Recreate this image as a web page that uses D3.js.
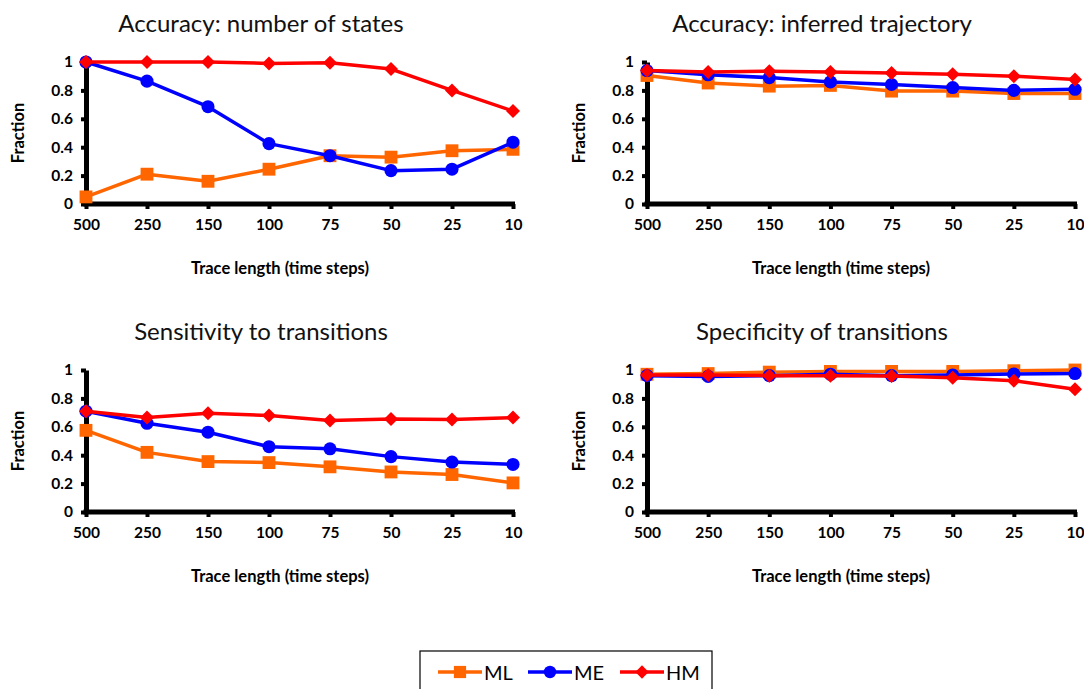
<!DOCTYPE html>
<html>
<head>
<meta charset="utf-8">
<script src="https://cdn.jsdelivr.net/npm/d3@7"></script>
<style>
  html, body { margin: 0; padding: 0; background: #fff; }
  svg { display: block; font-family: Lato, "Open Sans", sans-serif; }
</style>
</head>
<body>
<svg id="chart" width="1084" height="689"></svg>
<script>
// Trace lengths (time steps), shown left to right
const categories = ["500", "250", "150", "100", "75", "50", "25", "10"];
const yTicks = [0, 0.2, 0.4, 0.6, 0.8, 1];
const seriesNames = ["ML", "ME", "HM"];
const seriesColors = ["#ff6600", "#0000ff", "#ff0000"];

// Accuracy: number of states
const statesML = [0.05, 0.21, 0.16, 0.245, 0.34, 0.33, 0.375, 0.385];
const statesME = [1.0, 0.865, 0.685, 0.425, 0.34, 0.235, 0.245, 0.435];
const statesHM = [1.0, 1.0, 1.0, 0.99, 0.995, 0.95, 0.80, 0.655];

// Accuracy: inferred trajectory
const trajML = [0.905, 0.852, 0.83, 0.835, 0.795, 0.795, 0.778, 0.778];
const trajME = [0.94, 0.91, 0.89, 0.86, 0.842, 0.82, 0.80, 0.808];
const trajHM = [0.94, 0.93, 0.935, 0.93, 0.922, 0.913, 0.90, 0.877];

// Sensitivity to transitions
const sensML = [0.575, 0.42, 0.355, 0.348, 0.318, 0.282, 0.264, 0.205];
const sensME = [0.71, 0.625, 0.562, 0.46, 0.445, 0.39, 0.352, 0.335];
const sensHM = [0.71, 0.665, 0.695, 0.68, 0.645, 0.655, 0.652, 0.665];

// Specificity of transitions
const specML = [0.97, 0.975, 0.985, 0.99, 0.99, 0.99, 0.995, 1.0];
const specME = [0.96, 0.955, 0.96, 0.97, 0.96, 0.965, 0.972, 0.975];
const specHM = [0.965, 0.965, 0.96, 0.96, 0.958, 0.945, 0.925, 0.865];

// Marker shapes: square, circle, and a square diamond (equal width/height)
const squareDiamond = {
  draw(context, size) {
    const h = Math.sqrt(size / 2);
    context.moveTo(0, -h);
    context.lineTo(h, 0);
    context.lineTo(0, h);
    context.lineTo(-h, 0);
    context.closePath();
  }
};
const seriesSymbols = [d3.symbolSquare, d3.symbolCircle, squareDiamond];
const symbolSizes = [165, 135, 98];

const panels = [
  { title: "Accuracy: number of states", series: [statesML, statesME, statesHM], x0: 86, x1: 513, yTop: 62, yBot: 204 },
  { title: "Accuracy: inferred trajectory", series: [trajML, trajME, trajHM], x0: 647, x1: 1075, yTop: 62, yBot: 204 },
  { title: "Sensitivity to transitions", series: [sensML, sensME, sensHM], x0: 86, x1: 513, yTop: 370, yBot: 512 },
  { title: "Specificity of transitions", series: [specML, specME, specHM], x0: 647, x1: 1075, yTop: 370, yBot: 512 }
];

const svg = d3.select("#chart");

panels.forEach(p => {
  const g = svg.append("g");
  const x = d3.scalePoint().domain(categories).range([p.x0, p.x1]);
  const y = d3.scaleLinear().domain([0, 1]).range([p.yBot, p.yTop]);

  // title
  g.append("text")
    .attr("x", p.x0 + 175).attr("y", p.yTop - 30)
    .attr("text-anchor", "middle")
    .attr("font-size", 24)
    .attr("fill", "#111")
    .text(p.title);

  // y axis
  const yAxis = d3.axisLeft(y).tickValues(yTicks)
    .tickFormat(d => d === 0 ? "0" : d === 1 ? "1" : d3.format(".1f")(d))
    .tickSize(5).tickSizeOuter(0).tickPadding(8);
  const ya = g.append("g").attr("transform", `translate(${p.x0},0)`).call(yAxis);
  ya.select(".domain").attr("stroke", "#000").attr("stroke-width", 5);
  ya.selectAll(".tick line").attr("stroke", "#000").attr("stroke-width", 4);
  ya.selectAll(".tick text").attr("font-size", 15.5).attr("font-weight", "bold")
    .attr("font-family", "Lato, sans-serif").attr("fill", "#000");

  // x axis
  const xAxis = d3.axisBottom(x).tickSize(5).tickSizeOuter(0).tickPadding(10);
  const xa = g.append("g").attr("transform", `translate(0,${p.yBot})`).call(xAxis);
  xa.select(".domain").attr("stroke", "#000").attr("stroke-width", 5)
    .attr("d", `M${p.x0 - 2.5},0H${p.x1 + 2}`);
  xa.selectAll(".tick line").attr("stroke", "#000").attr("stroke-width", 4);
  xa.selectAll(".tick text").attr("font-size", 15.5).attr("font-weight", "bold")
    .attr("font-family", "Lato, sans-serif").attr("fill", "#000");

  // axis titles
  g.append("text")
    .attr("transform", `translate(${p.x0 - 68},${(p.yTop + p.yBot) / 2}) rotate(-90)`)
    .attr("text-anchor", "middle").attr("dominant-baseline", "central")
    .attr("font-size", 16.5).attr("font-weight", "bold").attr("fill", "#000")
    .text("Fraction");
  g.append("text")
    .attr("x", p.x0 + 194).attr("y", p.yBot + 64)
    .attr("text-anchor", "middle").attr("dominant-baseline", "central")
    .attr("font-size", 16.5).attr("font-weight", "bold").attr("fill", "#000")
    .text("Trace length (time steps)");

  // series lines and markers
  const line = d3.line().x((d, i) => x(categories[i])).y(d => y(d));
  p.series.forEach((vals, si) => {
    g.append("path").datum(vals)
      .attr("d", line)
      .attr("fill", "none")
      .attr("stroke", seriesColors[si])
      .attr("stroke-width", 3.5)
      .attr("stroke-linejoin", "round");
    const sym = d3.symbol().type(seriesSymbols[si]).size(symbolSizes[si]);
    g.selectAll(null).data(vals).enter().append("path")
      .attr("transform", (d, i) => `translate(${x(categories[i])},${y(d)})`)
      .attr("d", sym)
      .attr("fill", seriesColors[si]);
  });
});

// legend
const lg = svg.append("g");
lg.append("rect").attr("x", 420).attr("y", 651).attr("width", 292).attr("height", 50)
  .attr("fill", "#fff").attr("stroke", "#000").attr("stroke-width", 1.2);
const legendX = [438, 528, 620];
seriesNames.forEach((name, si) => {
  const lx = legendX[si];
  const cy = 672;
  lg.append("line").attr("x1", lx).attr("x2", lx + 44).attr("y1", cy).attr("y2", cy)
    .attr("stroke", seriesColors[si]).attr("stroke-width", 3.5);
  lg.append("path").attr("transform", `translate(${lx + 22},${cy})`)
    .attr("d", d3.symbol().type(seriesSymbols[si]).size(symbolSizes[si] * 0.9))
    .attr("fill", seriesColors[si]);
  lg.append("text").attr("x", lx + 46).attr("y", cy).attr("dominant-baseline", "central")
    .attr("font-size", 20).attr("fill", "#000").text(name);
});
</script>
</body>
</html>
